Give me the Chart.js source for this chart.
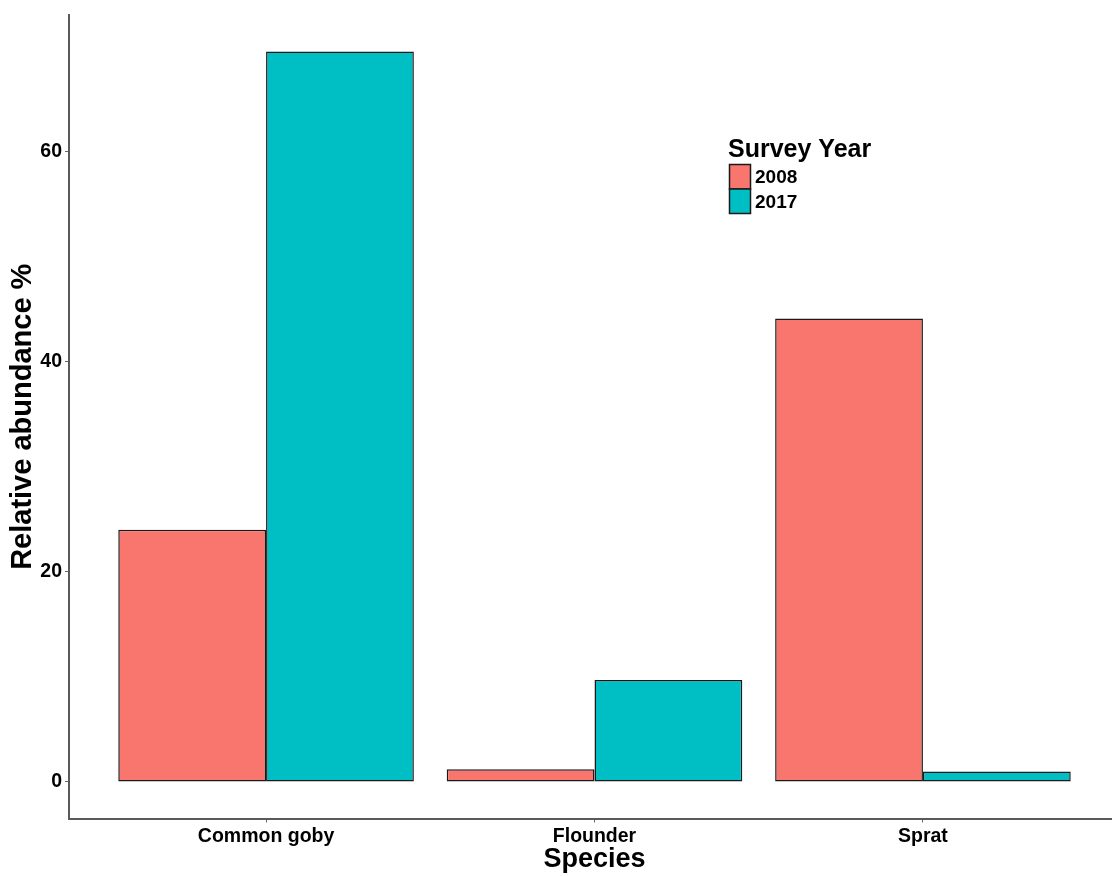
<!DOCTYPE html>
<html>
<head>
<meta charset="utf-8">
<script src="https://cdn.jsdelivr.net/npm/chart.js@4.4.1/dist/chart.umd.min.js"></script>
<style>
  html, body { margin: 0; padding: 0; background: #ffffff; overflow: hidden; }
  #wrap { position: absolute; left: 0; top: 0; width: 1130px; height: 876px; }
</style>
</head>
<body>
<div id="wrap"><canvas id="chart" width="1130" height="876"></canvas></div>
<script>
// Species on the x axis and the two survey years
const species = ['Common goby', 'Flounder', 'Sprat'];
const years = ['2008', '2017'];

// Relative abundance (%) per species
const abundance2008 = [24.0, 1.2, 44.1];
const abundance2017 = [69.5, 9.7, 1.0];

// Y axis tick values
const yTicks = [0, 20, 40, 60];

const yearColors = ['#F8766D', '#00BFC4'];
const FONT = "'Liberation Sans', Arial, Helvetica, sans-serif";

const toPoints = (vals) => vals.map((v, i) => ({ x: i + 1, y: v }));
const maxVal = Math.max(...abundance2008, ...abundance2017);

// Legend drawn inside the plot panel, ggplot style
const insideLegend = {
  id: 'insideLegend',
  afterDraw(chart) {
    const ctx = chart.ctx;
    ctx.save();
    ctx.fillStyle = '#000';
    ctx.textAlign = 'left';
    ctx.textBaseline = 'middle';
    ctx.font = `bold 25px ${FONT}`;
    ctx.fillText('Survey Year', 728, 150);
    const x0 = 729.5, y0 = 164.5, w = 21, h = 24.5;
    chart.data.datasets.forEach((ds, i) => {
      const y = y0 + i * h;
      ctx.fillStyle = ds.backgroundColor;
      ctx.fillRect(x0, y, w, h);
      ctx.strokeStyle = '#1a1a1a';
      ctx.lineWidth = 1.5;
      ctx.strokeRect(x0, y, w, h);
      ctx.fillStyle = '#000';
      ctx.font = `bold 19px ${FONT}`;
      ctx.fillText(ds.label, 755, y + h / 2 + 1.5);
    });
    ctx.restore();
  }
};

new Chart(document.getElementById('chart'), {
  type: 'bar',
  data: {
    datasets: [
      { label: years[0], data: toPoints(abundance2008), backgroundColor: yearColors[0] },
      { label: years[1], data: toPoints(abundance2017), backgroundColor: yearColors[1] }
    ]
  },
  options: {
    responsive: false,
    animation: false,
    devicePixelRatio: 1,
    layout: { padding: { left: 0, top: 15, right: 10, bottom: 0 } },
    datasets: {
      bar: {
        categoryPercentage: 0.9,
        barPercentage: 1.0,
        borderColor: '#1a1a1a',
        borderWidth: 1.5,
        borderSkipped: false
      }
    },
    plugins: {
      legend: { display: false },
      tooltip: { enabled: false }
    },
    scales: {
      x: {
        type: 'linear',
        offset: false,
        min: 0.4,
        max: species.length + 0.6,
        afterBuildTicks: (scale) => { scale.ticks = species.map((_, i) => ({ value: i + 1 })); },
        afterFit: (scale) => { scale.height = 57.5; },
        grid: { offset: false, drawOnChartArea: false, drawTicks: true, tickLength: 4, color: '#666', lineWidth: 1 },
        border: { display: true, color: '#5a5a5a', width: 2 },
        ticks: {
          autoSkip: false,
          maxRotation: 0,
          padding: 2,
          color: '#000',
          font: { family: FONT, size: 19.5, weight: 'bold' },
          callback: (v) => species[v - 1]
        },
        title: {
          display: true,
          text: 'Species',
          color: '#000',
          font: { family: FONT, size: 27, weight: 'bold' },
          padding: { top: 0, bottom: 0 }
        }
      },
      y: {
        min: -0.05 * maxVal,
        max: 1.05 * maxVal,
        afterBuildTicks: (scale) => { scale.ticks = yTicks.map(v => ({ value: v })); },
        afterFit: (scale) => { scale.width = 69; },
        grid: { drawOnChartArea: false, drawTicks: true, tickLength: 4, color: '#666', lineWidth: 1 },
        border: { display: true, color: '#5a5a5a', width: 2 },
        ticks: {
          padding: 3,
          color: '#000',
          font: { family: FONT, size: 19.5, weight: 'bold' }
        },
        title: {
          display: true,
          text: 'Relative abundance %',
          color: '#000',
          font: { family: FONT, size: 29, weight: 'bold' },
          padding: { top: 6, bottom: 0 }
        }
      }
    }
  },
  plugins: [insideLegend]
});
</script>
</body>
</html>
